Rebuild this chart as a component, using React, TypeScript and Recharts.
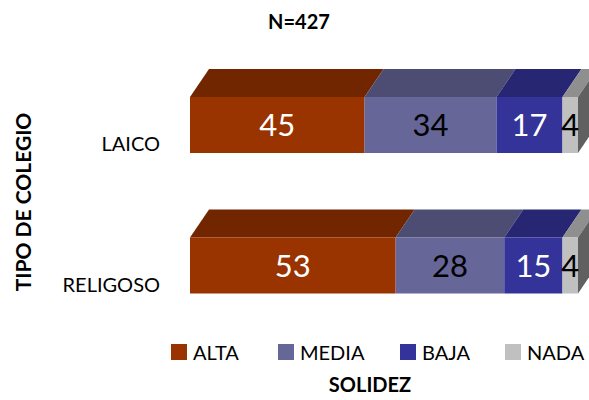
import { BarChart, Bar, XAxis, YAxis, LabelList } from 'recharts';

const categories = ['LAICO', 'RELIGOSO'];
const alta = [45, 53];
const media = [34, 28];
const baja = [17, 15];
const nada = [4, 4];
const seriesNames = ['ALTA', 'MEDIA', 'BAJA', 'NADA'];
const seriesValues = [alta, media, baja, nada];

const FONT = 'Lato, "Open Sans", sans-serif';
const DX = 19;
const DY = 28;

const styles = [
  { fill: '#993300', top: '#722600', label: '#ffffff' },
  { fill: '#666699', top: '#4d4d73', label: '#000000' },
  { fill: '#333399', top: '#262673', label: '#ffffff' },
  { fill: '#c0c0c0', top: '#8f8f8f', side: '#606060', label: '#000000' },
];

const data = categories.map((name, i) => {
  const row: any = { name };
  seriesNames.forEach((s, j) => {
    row[s] = seriesValues[j][i];
  });
  return row;
});

function makeShape(top: string, side?: string) {
  return (props: any) => {
    const { x, y, width, height, fill } = props;
    return (
      <g>
        <polygon
          points={`${x},${y} ${x + DX},${y - DY} ${x + width + DX},${y - DY} ${x + width},${y}`}
          fill={top}
        />
        {side && (
          <polygon
            points={`${x + width},${y} ${x + width + DX},${y - DY} ${x + width + DX},${y + height - DY} ${x + width},${y + height}`}
            fill={side}
          />
        )}
        <rect x={x} y={y} width={width} height={height} fill={fill} />
      </g>
    );
  };
}

function CategoryTick(props: any) {
  const { x, y, payload } = props;
  return (
    <text x={x - 22} y={y + 21} textAnchor="end" dominantBaseline="middle" fontSize={20} fontFamily={FONT} fill="#000">
      {payload.value}
    </text>
  );
}

export default function App() {
  return (
    <div style={{ position: 'absolute', left: 0, top: 0, width: 589, height: 400, background: '#fff', fontFamily: FONT }}>
      <div style={{ position: 'absolute', top: 9, left: 0, width: 598, textAlign: 'center', fontWeight: 'bold', fontSize: 20 }}>
        N=427
      </div>
      <BarChart
        width={589}
        height={400}
        data={data}
        layout="vertical"
        margin={{ top: 55, right: 11, left: 0, bottom: 64 }}
        barSize={56}
      >
        <XAxis type="number" domain={[0, 100]} hide />
        <YAxis type="category" dataKey="name" width={190} axisLine={false} tickLine={false} tick={<CategoryTick />} />
        {seriesNames.map((s, i) => (
          <Bar
            key={s}
            dataKey={s}
            stackId="a"
            fill={styles[i].fill}
            shape={makeShape(styles[i].top, styles[i].side)}
            isAnimationActive={false}
          >
            <LabelList dataKey={s} position="center" fill={styles[i].label} fontSize={31} fontFamily={FONT} />
          </Bar>
        ))}
      </BarChart>
      <div
        style={{
          position: 'absolute',
          left: 22,
          top: 202,
          transform: 'translate(-50%, -50%) rotate(-90deg)',
          whiteSpace: 'nowrap',
          fontWeight: 'bold',
          fontSize: 21,
        }}
      >
        TIPO DE COLEGIO
      </div>
      <div style={{ position: 'absolute', top: 340, left: 171, display: 'flex', fontSize: 20 }}>
        {seriesNames.map((s, i) => (
          <div key={s} style={{ display: 'flex', alignItems: 'center', width: [107, 122, 105, 90][i] }}>
            <span style={{ display: 'inline-block', width: 16, height: 16, background: styles[i].fill, marginRight: 6 }} />
            <span>{s}</span>
          </div>
        ))}
      </div>
      <div style={{ position: 'absolute', top: 372, left: 0, width: 740, textAlign: 'center', fontWeight: 'bold', fontSize: 20 }}>
        SOLIDEZ
      </div>
    </div>
  );
}
